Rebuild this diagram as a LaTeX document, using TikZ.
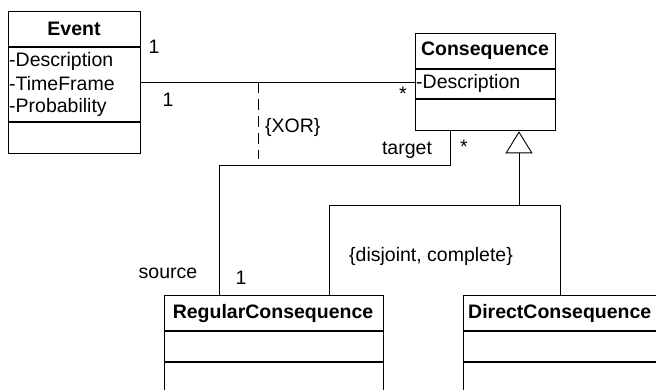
\documentclass[tikz,border=0pt]{standalone}
\usepackage{fontspec}
\setmainfont{Liberation Sans}
\usetikzlibrary{arrows.meta}
\begin{document}
\begin{tikzpicture}[x=1pt,y=-1pt,
  every node/.style={font=\fontsize{19.5}{22}\selectfont},
  box/.style={draw, line width=1.3pt, rectangle, anchor=north west, inner sep=0pt},
  sepline/.style={line width=1.3pt},
  cname/.style={font=\fontsize{19.5}{22}\selectfont\bfseries, inner sep=0pt},
  attr/.style={anchor=west, inner sep=0pt},
  lbl/.style={inner sep=0pt},
  conn/.style={line width=0.9pt},
  xorline/.style={line width=0.9pt, dash pattern=on 11pt off 6pt}]
\useasboundingbox (0,0) rectangle (656,389);
\clip (0,0) rectangle (656,389);
% Event
\node[box, minimum width=132pt, minimum height=142pt] (event) at (8,11) {};
\draw[sepline] (8,47) -- (140,47);
\draw[sepline] (8,122) -- (140,122);
\node[cname] (eventname) at (74,29) {Event};
\node[attr] (ea1) at (9,61) {-Description};
\node[attr] (ea2) at (9,84) {-TimeFrame};
\node[attr] (ea3) at (9,107) {-Probability};
% Consequence
\node[box, minimum width=140pt, minimum height=97pt] (cons) at (415,33) {};
\draw[sepline] (415,69) -- (555,69);
\draw[sepline] (415,99) -- (555,99);
\node[cname] (consname) at (485,51) {Consequence};
\node[attr] (ca1) at (416,83) {-Description};
% RegularConsequence
\node[box, minimum width=219pt, minimum height=130pt] (reg) at (164,295) {};
\draw[sepline] (164,331) -- (383,331);
\draw[sepline] (164,362) -- (383,362);
\node[cname] (regname) at (273,313) {RegularConsequence};
% DirectConsequence
\node[box, minimum width=250pt, minimum height=130pt] (dir) at (463,295) {};
\draw[sepline] (463,331) -- (713,331);
\draw[sepline] (463,362) -- (713,362);
\node[cname, anchor=west] (dirname) at (468,313) {DirectConsequence};
% association Event - Consequence
\coordinate (x1) at (258,82);
\coordinate (x2) at (258,159);
\draw[conn] (event.east |- x1) -- (cons.west |- x1);
\draw[xorline] (x1) -- (x2);
% reflexive association
\coordinate (b1) at (450,165);
\coordinate (b2) at (219,165);
\draw[conn] (cons.south -| b1) -- (b1) -- (b2) -- (reg.north -| b2);
% generalization
\coordinate (g1) at (519,205);
\coordinate (g2) at (329,205);
\coordinate (g3) at (560,205);
\draw[conn] (reg.north -| g2) -- (g2) -- (g3) -- (dir.north -| g3);
\draw[conn, -{Triangle[open, length=22pt, width=27pt]}] (g1) -- (cons.south -| g1);
% labels
\node[lbl] (m1) at (154,47) {1};
\node[lbl] (m2) at (168,100) {1};
\node[lbl] (m3) at (403,94) {*};
\node[lbl, anchor=west] (xor) at (265,127) {\{XOR\}};
\node[lbl] (tgt) at (407,150) {target};
\node[lbl] (m4) at (464,147) {*};
\node[lbl] (src) at (168,273) {source};
\node[lbl] (m5) at (241,278) {1};
\node[lbl] (dc) at (431,256) {\{disjoint, complete\}};
\end{tikzpicture}
\end{document}
